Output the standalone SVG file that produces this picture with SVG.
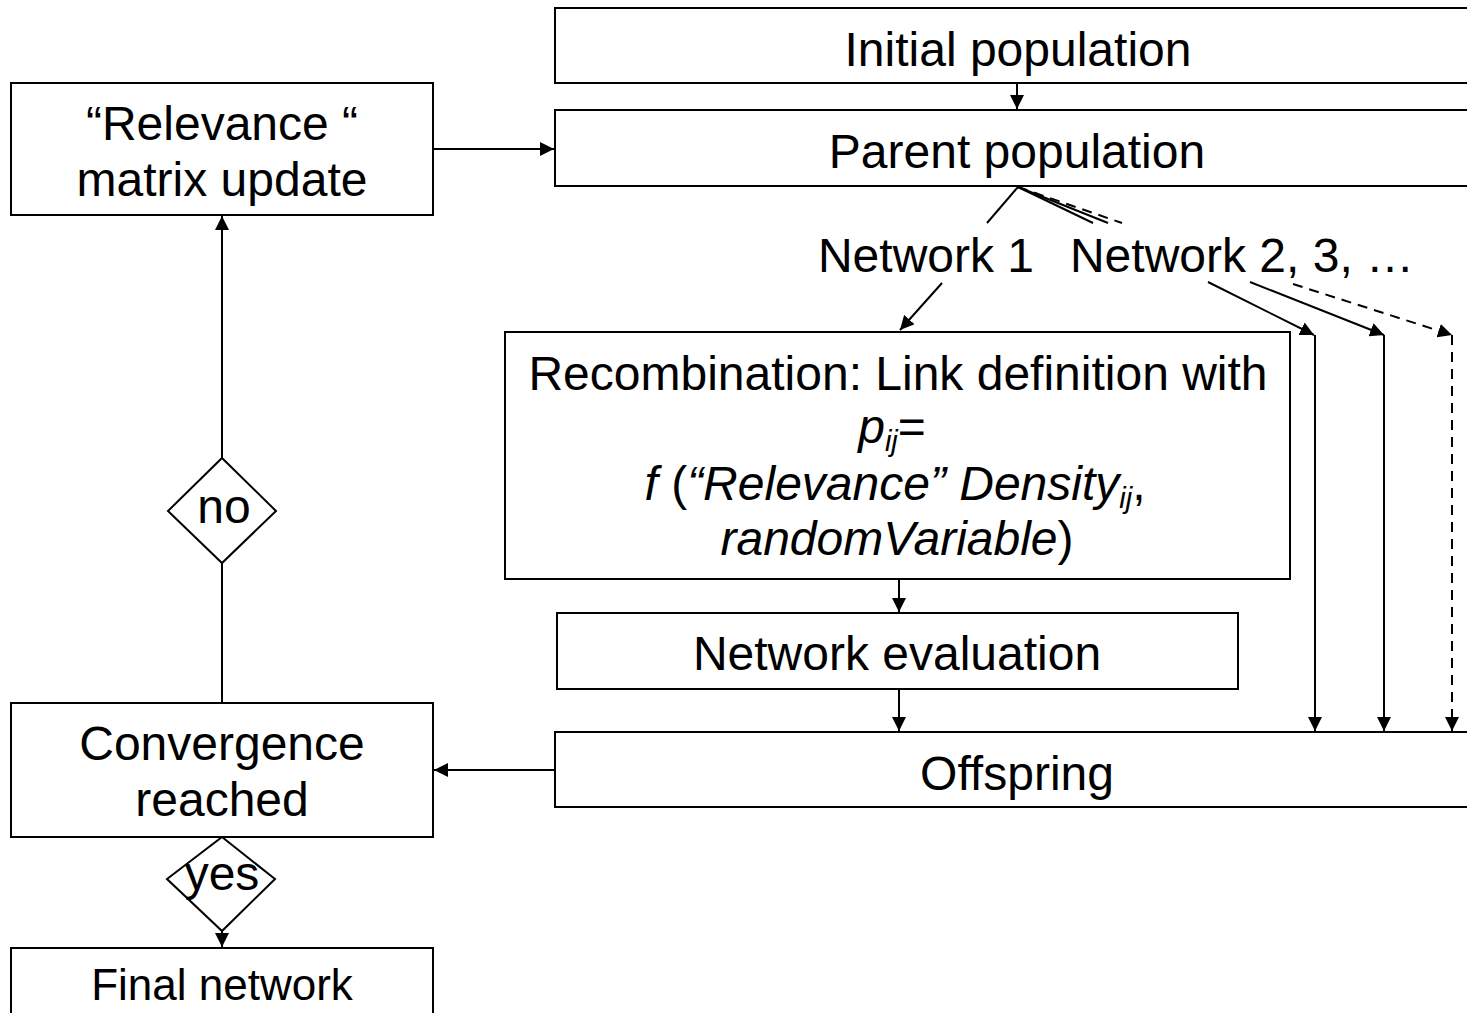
<svg xmlns="http://www.w3.org/2000/svg" width="1467" height="1013" viewBox="0 0 1467 1013">
  <style>
    .box { fill: #ffffff; stroke: #000000; stroke-width: 2; }
    .lbl { font-family: "Liberation Sans", Arial, sans-serif; font-size: 48px; fill: #000000; text-anchor: middle; }
    .small { font-size: 44px; }
    .it { font-style: italic; }
    .sub { font-size: 29px; font-style: italic; }
    .conn { fill: none; stroke: #000000; stroke-width: 2; }
    .dash { stroke-dasharray: 10 7; }
  </style>
  <defs>
    <marker id="arrow" viewBox="0 0 10 10" refX="10" refY="5" markerWidth="14" markerHeight="14" markerUnits="userSpaceOnUse" orient="auto">
      <path d="M0,0 L10,5 L0,10 z" fill="#000000"/>
    </marker>
  </defs>

  <!-- connectors -->
  <g id="connectors">
    <line class="conn" x1="1017" y1="83" x2="1017" y2="109" marker-end="url(#arrow)"/>
    <line class="conn" x1="433" y1="149" x2="554" y2="149" marker-end="url(#arrow)"/>
    <!-- parent population fan-out -->
    <line class="conn" x1="1018" y1="187" x2="987" y2="223"/>
    <line class="conn" x1="942" y1="283" x2="900" y2="330" marker-end="url(#arrow)"/>
    <line class="conn" x1="1018" y1="187" x2="1093" y2="223"/>
    <line class="conn" x1="1018" y1="187" x2="1108" y2="223"/>
    <line class="conn dash" x1="1018" y1="187" x2="1122" y2="223"/>
    <line class="conn" x1="1208" y1="282" x2="1314" y2="335" marker-end="url(#arrow)"/>
    <line class="conn" x1="1250" y1="282" x2="1384" y2="335" marker-end="url(#arrow)"/>
    <line class="conn dash" x1="1293" y1="284" x2="1452" y2="335" marker-end="url(#arrow)"/>
    <line class="conn" x1="1315" y1="335" x2="1315" y2="731" marker-end="url(#arrow)"/>
    <line class="conn" x1="1384" y1="335" x2="1384" y2="731" marker-end="url(#arrow)"/>
    <line class="conn dash" x1="1452" y1="335" x2="1452" y2="731" marker-end="url(#arrow)"/>
    <!-- main column -->
    <line class="conn" x1="899" y1="579" x2="899" y2="612" marker-end="url(#arrow)"/>
    <line class="conn" x1="899" y1="689" x2="899" y2="731" marker-end="url(#arrow)"/>
    <line class="conn" x1="555" y1="770" x2="434" y2="770" marker-end="url(#arrow)"/>
    <!-- convergence loop -->
    <line class="conn" x1="222" y1="703" x2="222" y2="563"/>
    <line class="conn" x1="222" y1="458" x2="222" y2="216" marker-end="url(#arrow)"/>
    <line class="conn" x1="222" y1="931" x2="222" y2="947" marker-end="url(#arrow)"/>
  </g>

  <g id="initial-population">
    <rect class="box" x="555" y="8" width="930" height="75"/>
    <text class="lbl" x="1018" y="66">Initial population</text>
  </g>

  <g id="parent-population">
    <rect class="box" x="555" y="110" width="930" height="76"/>
    <text class="lbl" x="1017" y="168">Parent population</text>
  </g>

  <g id="relevance-update">
    <rect class="box" x="11" y="83" width="422" height="132"/>
    <text class="lbl" x="222" y="140">“Relevance “</text>
    <text class="lbl" x="222" y="196">matrix update</text>
  </g>

  <g id="network-labels">
    <text class="lbl" x="926" y="272">Network 1</text>
    <text class="lbl" x="1242" y="272">Network 2, 3, …</text>
  </g>

  <g id="recombination">
    <rect class="box" x="505" y="332" width="785" height="247"/>
    <text class="lbl" x="898" y="390">Recombination: Link definition with</text>
    <text class="lbl" x="892" y="443"><tspan class="it">p</tspan><tspan class="sub" dy="8">ij</tspan><tspan dy="-8">=</tspan></text>
    <text class="lbl" x="895" y="500"><tspan class="it">f</tspan> (<tspan class="it">“Relevance” Density</tspan><tspan class="sub" dy="8">ij</tspan><tspan dy="-8">,</tspan></text>
    <text class="lbl" x="897" y="555"><tspan class="it">randomVariable</tspan>)</text>
  </g>

  <g id="network-evaluation">
    <rect class="box" x="557" y="613" width="681" height="76"/>
    <text class="lbl" x="897" y="670">Network evaluation</text>
  </g>

  <g id="offspring">
    <rect class="box" x="555" y="732" width="930" height="75"/>
    <text class="lbl" x="1017" y="790">Offspring</text>
  </g>

  <g id="convergence">
    <rect class="box" x="11" y="703" width="422" height="134"/>
    <text class="lbl" x="222" y="760">Convergence</text>
    <text class="lbl" x="222" y="816">reached</text>
  </g>

  <g id="decision-no">
    <polygon class="box" points="222,458 276,511 222,563 168,511"/>
    <text class="lbl" x="224" y="523">no</text>
  </g>

  <g id="decision-yes">
    <polygon class="box" points="222,837 275,879 222,931 167,879"/>
    <text class="lbl" x="222" y="890">yes</text>
  </g>

  <g id="final-network">
    <rect class="box" x="11" y="948" width="422" height="80"/>
    <text class="lbl small" x="222" y="1000">Final network</text>
  </g>
</svg>
